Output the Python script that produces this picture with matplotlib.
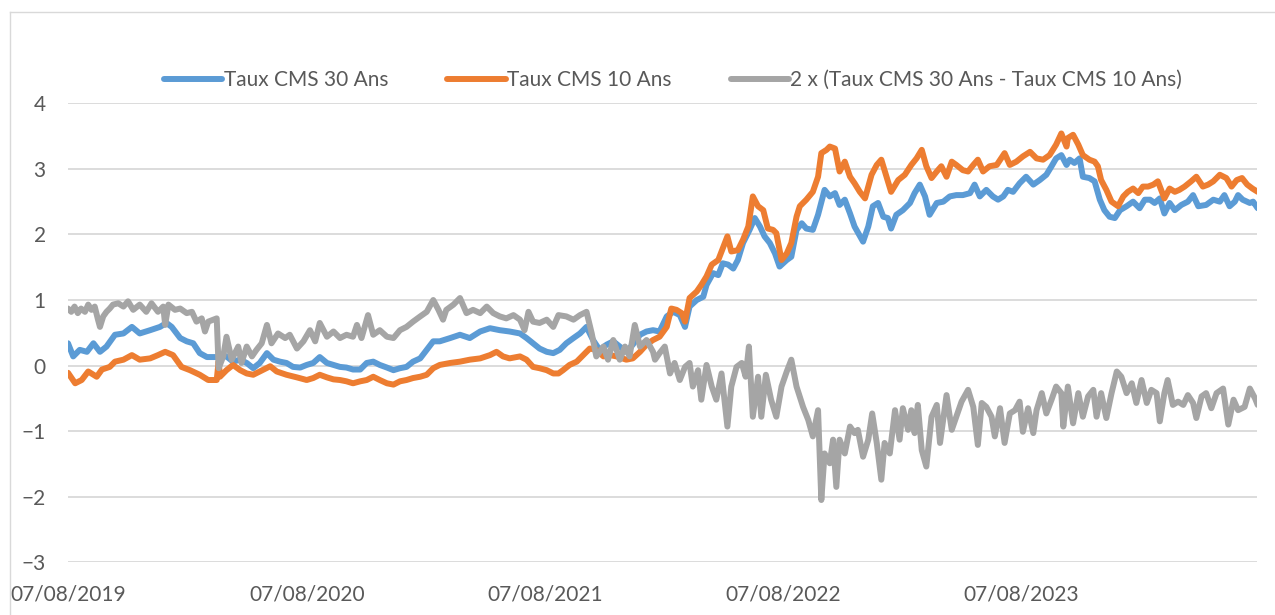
import matplotlib
matplotlib.use("Agg")
import matplotlib.pyplot as plt
import matplotlib.dates as mdates
import pandas as pd
from matplotlib.lines import Line2D

# valeurs (jours depuis le 07/08/2019, taux en %)
START = pd.Timestamp("2019-08-07")

days30 = [0, 8, 18, 29, 39, 49, 59, 72, 85, 98, 110, 126, 141, 151, 159, 172, 182, 192, 202, 213, 228,
          243, 253, 264, 274, 284, 294, 305, 315, 325, 335, 345, 356, 366, 376, 386, 397, 407, 417, 427,
          437, 448, 458, 468, 478, 489, 499, 509, 519, 529, 540, 550, 560, 570,
          586, 601, 616, 632, 647, 662, 677, 693, 703, 713, 723, 734, 744, 754, 764, 775, 785, 795, 805,
          815, 826, 836, 846, 856, 866, 877, 887,
          897, 907, 918, 928, 938, 946, 953, 964, 974, 979, 989, 997, 1004, 1012, 1020, 1027, 1035, 1045,
          1053, 1061, 1068, 1076, 1084, 1091, 1102, 1109, 1117, 1125, 1132, 1142, 1150, 1160, 1168, 1176,
          1183, 1191, 1199, 1206,
          1219, 1227, 1234, 1242, 1250, 1257, 1262, 1270, 1280, 1291, 1298, 1306, 1314, 1321, 1332, 1342,
          1352, 1362, 1372, 1383, 1390, 1398, 1408, 1418, 1426, 1434, 1441, 1449, 1459, 1469, 1480, 1490,
          1500, 1508, 1515, 1523, 1531,
          1536, 1543, 1551, 1556, 1566, 1574, 1582, 1589, 1597, 1605, 1613, 1623, 1633, 1643, 1651, 1659,
          1666, 1674, 1681, 1689, 1697, 1707, 1717, 1725, 1733, 1745, 1756, 1766, 1773, 1781, 1789, 1794,
          1801, 1812, 1817, 1824]
cms30 = [0.34, 0.14, 0.24, 0.21, 0.34, 0.21, 0.29, 0.47, 0.49, 0.59, 0.49, 0.54, 0.59, 0.65, 0.59, 0.42,
         0.37, 0.34, 0.19, 0.13, 0.13,
         0.14, 0.06, 0.09, 0.04, -0.04, 0.04, 0.19, 0.09, 0.06, 0.04, -0.02, -0.03, 0.01, 0.04, 0.13, 0.04,
         0.01, -0.02, -0.03, -0.06, -0.06, 0.04, 0.06, 0.01, -0.03, -0.07, -0.04, -0.02, 0.06, 0.11, 0.24,
         0.37, 0.37,
         0.42, 0.47, 0.42, 0.52, 0.57, 0.54, 0.52, 0.49, 0.42, 0.34, 0.26, 0.21, 0.19, 0.24, 0.34, 0.42,
         0.49, 0.59, 0.39, 0.24, 0.32, 0.37, 0.29, 0.21, 0.32, 0.47, 0.52,
         0.54, 0.52, 0.75, 0.82, 0.77, 0.59, 0.90, 1.00, 1.05, 1.23, 1.41, 1.38, 1.56, 1.54, 1.48, 1.61,
         1.87, 2.07, 2.25, 2.12, 1.97, 1.87, 1.71, 1.51, 1.61, 1.66, 2.07, 2.17, 2.09, 2.07, 2.30, 2.68,
         2.58, 2.63, 2.45, 2.53, 2.32, 2.12,
         1.89, 2.12, 2.43, 2.48, 2.27, 2.25, 2.09, 2.30, 2.37, 2.48, 2.63, 2.76, 2.58, 2.30, 2.48, 2.50,
         2.58, 2.60, 2.60, 2.63, 2.76, 2.58, 2.68, 2.58, 2.53, 2.58, 2.68, 2.65, 2.78, 2.88, 2.76, 2.83,
         2.91, 3.04, 3.16, 3.21, 3.06,
         3.14, 3.09, 3.16, 2.88, 2.86, 2.81, 2.53, 2.37, 2.27, 2.25, 2.37, 2.43, 2.50, 2.40, 2.53, 2.53,
         2.48, 2.55, 2.32, 2.48, 2.37, 2.45, 2.50, 2.60, 2.43, 2.45, 2.53, 2.50, 2.60, 2.43, 2.50, 2.60,
         2.53, 2.48, 2.50, 2.40]

days10 = [0, 11, 21, 31, 44, 52, 64, 72, 85, 98, 110, 126, 138, 149, 161, 174, 187, 202, 215, 228, 231,
          233, 243, 253, 264, 274, 284, 294, 310, 320, 335, 351, 366, 376, 386, 397, 407, 417, 427, 437,
          448, 458, 468, 478, 489, 499, 509, 519, 529, 540, 550, 560, 570,
          586, 601, 616, 632, 647, 657, 667, 677, 693, 703, 713, 723, 734, 744, 752, 759, 769, 780, 790,
          800, 810, 821, 831, 841, 856, 866, 877, 887, 897, 907,
          918, 925, 933, 941, 946, 953, 964, 971, 979, 987, 997, 1004, 1011, 1017, 1027, 1035, 1043, 1050,
          1058, 1066, 1073, 1081, 1086, 1094, 1102, 1109, 1117, 1122, 1132, 1142, 1150, 1155, 1163, 1168,
          1176, 1183, 1191, 1199, 1206,
          1214, 1222, 1232, 1240, 1247, 1255, 1262, 1273, 1283, 1293, 1301, 1309, 1316, 1324, 1332, 1339,
          1347, 1355, 1362, 1372, 1380, 1388, 1395, 1403, 1413, 1424, 1436, 1444, 1454, 1464, 1475, 1485,
          1495, 1505, 1515, 1523, 1531,
          1533, 1541, 1549, 1556, 1566, 1574, 1579, 1584, 1592, 1600, 1610, 1618, 1625, 1633, 1641, 1648,
          1656, 1664, 1671, 1681, 1689, 1697, 1704, 1712, 1722, 1730, 1740, 1748, 1756, 1766, 1776, 1784,
          1792, 1800, 1808, 1816, 1824]
cms10 = [-0.11, -0.27, -0.22, -0.09, -0.17, -0.06, -0.02, 0.06, 0.09, 0.16, 0.09, 0.11, 0.16, 0.21, 0.16,
         -0.02, -0.07, -0.14, -0.22, -0.22, 0.07,
         -0.17, -0.07, 0.01, -0.07, -0.12, -0.14, -0.09, -0.01, -0.09, -0.14, -0.18, -0.22, -0.19, -0.14,
         -0.18, -0.21, -0.22, -0.24, -0.27, -0.24, -0.22, -0.17, -0.22, -0.27, -0.29, -0.24, -0.22, -0.19,
         -0.17, -0.14, -0.04, 0.01,
         0.04, 0.06, 0.09, 0.11, 0.16, 0.21, 0.14, 0.11, 0.14, 0.09, -0.02, -0.04, -0.07, -0.12, -0.12,
         -0.07, 0.01, 0.06, 0.16, 0.26, 0.24, 0.14, 0.16, 0.14, 0.09, 0.11, 0.21, 0.32, 0.39, 0.44,
         0.59, 0.87, 0.85, 0.80, 0.67, 1.03, 1.13, 1.23, 1.36, 1.54, 1.61, 1.79, 1.97, 1.74, 1.76, 1.92,
         2.12, 2.58, 2.43, 2.37, 2.09, 2.07, 2.02, 1.61, 1.71, 1.87, 2.27, 2.43, 2.53, 2.65, 2.88, 3.24,
         3.29, 3.34, 3.31, 2.96, 3.11, 2.88, 2.78,
         2.65, 2.55, 2.91, 3.06, 3.14, 2.88, 2.65, 2.83, 2.91, 3.06, 3.16, 3.29, 3.04, 2.86, 2.96, 3.04,
         2.88, 3.11, 3.06, 2.98, 2.96, 3.06, 3.14, 2.96, 3.04, 3.06, 3.24, 3.06, 3.11, 3.19, 3.26, 3.16,
         3.14, 3.21, 3.37, 3.54, 3.34,
         3.47, 3.52, 3.37, 3.21, 3.14, 3.11, 3.04, 2.83, 2.68, 2.50, 2.43, 2.58, 2.65, 2.70, 2.63, 2.73,
         2.73, 2.76, 2.81, 2.55, 2.70, 2.65, 2.68, 2.73, 2.81, 2.88, 2.73, 2.76, 2.81, 2.91, 2.86, 2.73,
         2.83, 2.86, 2.76, 2.70, 2.65]

days_sp = [0, 5, 10, 15, 20, 26, 31, 36, 41, 46, 49, 54, 59, 64, 69, 77, 85, 92, 100, 110, 120, 128, 138,
           146, 149, 154, 164, 172, 182, 190, 197, 205, 210, 215, 223, 228, 231,
           238, 243, 251, 261, 266, 274, 282, 289, 297, 305, 312, 322, 333, 340, 351, 361, 371, 379, 386,
           397, 407, 417, 427, 437, 443, 450, 460, 468, 478, 489, 499, 509, 519, 529, 540, 550, 560, 568, 575,
           580, 591, 601, 611, 621, 632, 642, 652, 662, 672, 683, 693, 700, 706, 713, 723, 734, 744, 752,
           764, 775, 785, 795, 803, 810, 821, 828, 836, 846, 854, 861, 869, 877, 887, 897,
           900, 907, 915, 923, 930, 938, 946, 953, 958, 966, 971, 979, 987, 994, 1002, 1011, 1017, 1025,
           1033, 1039, 1044, 1050, 1058, 1063, 1070, 1078, 1086, 1094, 1102, 1109, 1117, 1127, 1135, 1142,
           1150, 1155, 1160, 1168, 1173, 1178, 1183, 1191, 1199, 1206,
           1211, 1219, 1227, 1233, 1240, 1247, 1252, 1260, 1268, 1275, 1280, 1288, 1293, 1298, 1303, 1309,
           1316, 1324, 1332, 1337, 1347, 1355, 1362, 1370, 1380, 1388, 1395, 1401, 1408, 1416, 1421, 1429,
           1436, 1444, 1452, 1459, 1464, 1472, 1480, 1485, 1493, 1500, 1508, 1515, 1523, 1526, 1533,
           1541, 1549, 1556, 1564, 1572, 1577, 1584, 1592, 1600, 1608, 1615, 1623, 1631, 1638, 1646, 1654,
           1661, 1669, 1674, 1681, 1686, 1694, 1702, 1710, 1717, 1725, 1730, 1738, 1745, 1753, 1761, 1771,
           1779, 1787, 1794, 1804, 1812, 1820, 1824]
spread = [0.87, 0.82, 0.90, 0.80, 0.87, 0.82, 0.93, 0.85, 0.90, 0.70, 0.59, 0.75, 0.82, 0.87, 0.93, 0.95,
          0.90, 0.98, 0.85, 0.93, 0.82, 0.95, 0.82, 0.90, 0.62, 0.93, 0.85, 0.87, 0.80, 0.82, 0.67, 0.72,
          0.52, 0.67, 0.70, 0.72, -0.04,
          0.14, 0.44, 0.09, 0.29, 0.04, 0.29, 0.14, 0.24, 0.34, 0.62, 0.34, 0.49, 0.42, 0.47, 0.26, 0.37,
          0.54, 0.37, 0.65, 0.44, 0.52, 0.42, 0.47, 0.44, 0.62, 0.42, 0.77, 0.47, 0.54, 0.44, 0.42, 0.54,
          0.59, 0.67, 0.75, 0.82, 1.00, 0.85, 0.70,
          0.85, 0.93, 1.03, 0.80, 0.85, 0.80, 0.90, 0.80, 0.75, 0.72, 0.77, 0.70, 0.54, 0.82, 0.67, 0.65,
          0.70, 0.59, 0.77, 0.75, 0.70, 0.77, 0.82, 0.49, 0.14, 0.29, 0.09, 0.39, 0.09, 0.29, 0.14, 0.62,
          0.29, 0.39, 0.21,
          0.09, 0.19, 0.29, -0.12, 0.04, -0.22, -0.02, 0.04, -0.32, -0.07, -0.52, 0.01, -0.32, -0.52, -0.12,
          -0.93, -0.32, -0.02, 0.04, -0.17, 0.29, -0.78, -0.17, -0.78, -0.14, -0.52, -0.78, -0.32, -0.09,
          0.09, -0.32, -0.63, -0.83, -1.08, -0.68, -2.05, -1.34, -1.49, -1.13, -1.85, -1.13, -1.34, -0.93,
          -1.03,
          -0.98, -1.39, -1.13, -0.73, -1.18, -1.74, -1.18, -1.34, -0.68, -1.13, -0.65, -0.98, -0.68, -1.03,
          -0.60, -1.29, -1.54, -0.78, -0.60, -1.18, -0.45, -0.98, -0.78, -0.55, -0.37, -0.63, -1.21, -0.57,
          -0.63, -0.78, -1.08, -0.65, -1.18, -0.73, -0.68, -0.55, -1.01, -0.65, -1.03, -0.68, -0.42, -0.73,
          -0.52, -0.32, -0.42, -0.93, -0.32,
          -0.88, -0.42, -0.78, -0.47, -0.37, -0.78, -0.42, -0.80, -0.42, -0.09, -0.17, -0.42, -0.27, -0.57,
          -0.22, -0.57, -0.37, -0.42, -0.85, -0.42, -0.22, -0.60, -0.55, -0.60, -0.45, -0.57, -0.80, -0.47,
          -0.42, -0.65, -0.42, -0.35, -0.90, -0.52, -0.68, -0.63, -0.35, -0.50, -0.60]

labels = ["Taux CMS 30 Ans", "Taux CMS 10 Ans", "2 x (Taux CMS 30 Ans - Taux CMS 10 Ans)"]
colors = ["#5B9BD5", "#ED7D31", "#A5A5A5"]
yticks = [-3, -2, -1, 0, 1, 2, 3, 4]
tick_years = [2019, 2020, 2021, 2022, 2023]
END_DAYS = 1823

TXT = "#595959"
plt.rcParams["font.family"] = ["Lato", "DejaVu Sans"]

W, H = 1275, 615
fig = plt.figure(figsize=(W / 100, H / 100), dpi=100)
ax = fig.add_axes([68 / W, 1 - 562.3 / H, (1257 - 68) / W, (562.3 - 103.3) / H])

series = [(days30, cms30), (days10, cms10), (days_sp, spread)]
for (d, v), lab, col in zip(series, labels, colors):
    x = START + pd.to_timedelta(d, unit="D")
    ax.plot(x, v, color=col, lw=4.3, label=lab, solid_joinstyle="round", solid_capstyle="round")

ax.set_xlim(START, START + pd.Timedelta(days=END_DAYS))
ax.set_ylim(-3, 4)
ax.set_yticks(yticks)
ax.set_xticks([pd.Timestamp(f"{y}-08-07") for y in tick_years])
ax.xaxis.set_major_formatter(mdates.DateFormatter("%d/%m/%Y"))
ax.grid(axis="y", color="#D9D9D9", lw=1.3)
ax.set_axisbelow(True)
for s in ax.spines.values():
    s.set_visible(False)
ax.tick_params(axis="both", length=0, labelsize=15, labelcolor=TXT)
ax.tick_params(axis="y", pad=16)
ax.tick_params(axis="x", pad=16)

fig.legend(loc="center", bbox_to_anchor=(673 / W, 1 - 80 / H), ncol=3, frameon=False,
           fontsize=15, labelcolor=TXT, handlelength=2.8, handletextpad=0.05,
           columnspacing=2.85)

# cadre de la zone graphique
fig.add_artist(Line2D([10 / W, 10 / W], [0, 1 - 12 / H], color="#D9D9D9", lw=1))
fig.add_artist(Line2D([10 / W, 1], [1 - 12 / H, 1 - 12 / H], color="#D9D9D9", lw=1))

fig.savefig("out.png", dpi=100)
